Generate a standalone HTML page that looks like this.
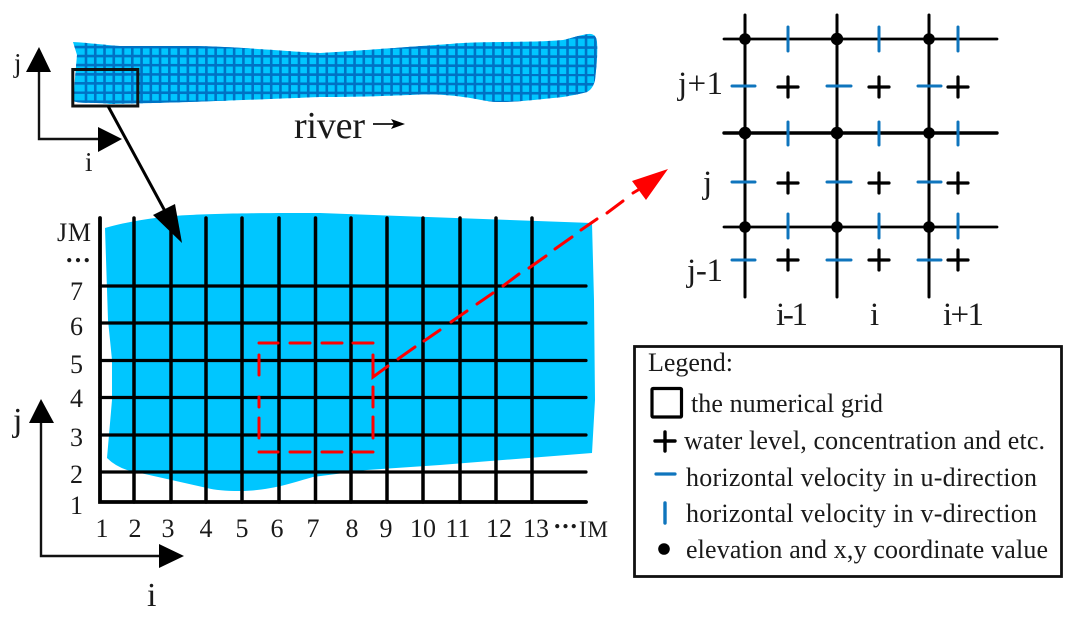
<!DOCTYPE html>
<html><head><meta charset="utf-8"><style>
html,body{margin:0;padding:0;background:#fff}
svg{display:block;filter:blur(0.35px)}
text{font-family:"Liberation Serif",serif;fill:#1a1a1a}
</style></head><body>
<svg width="1080" height="623" viewBox="0 0 1080 623" xmlns="http://www.w3.org/2000/svg">
<defs><clipPath id="rv"><path d="M73,42 C90,43 105,45 120,46 L187,46 C230,46 280,51 320,53 C370,50 420,46 450,44 C480,41 530,43 563,40 C572,38 580,35 588,34 Q596,33 597,42 C598,55 596,70 595,80 Q593,89 587,92 C575,95 565,97 553,98 C535,100 515,102 500,102 C485,102 475,98 463,97 C450,95 435,94 420,94.500 C390,96 350,97 320,97 C270,99 200,102 153,103 L110,104 C95,102 80,104 73,101 L77,55 Z"/></clipPath></defs>

<!-- river -->
<g clip-path="url(#rv)">
<rect x="60" y="30" width="550" height="80" fill="#00c6ff"/>
<line x1="84.700" y1="70" x2="600" y2="70" stroke="#0072c4" stroke-width="80" stroke-dasharray="2.600 6.660"/>
<g stroke="#0072c4" stroke-width="2.600">
<line x1="60" y1="37.500" x2="610" y2="37.300"/>
<line x1="60" y1="47" x2="610" y2="47.600"/>
<line x1="60" y1="56" x2="610" y2="56.700"/>
<line x1="60" y1="65" x2="610" y2="66"/>
<line x1="60" y1="74.300" x2="610" y2="75"/>
<line x1="60" y1="83.300" x2="610" y2="84.300"/>
<line x1="60" y1="92.600" x2="610" y2="93.300"/>
<line x1="60" y1="101.700" x2="610" y2="102.300"/>
</g>
</g>
<rect x="72.800" y="69.500" width="65" height="36.500" fill="none" stroke="#111" stroke-width="3"/>

<!-- small axes -->
<path d="M39,68 V139 H102" fill="none" stroke="#111" stroke-width="2.400"/>
<path d="M39,47 L51,72 L26,72 Z M122,139 L98,127 L98,152 Z" fill="#000"/>
<text x="14" y="72" font-size="27">j</text>
<text x="85" y="171" font-size="27">i</text>

<!-- river label -->
<text x="294" y="138" font-size="38" textLength="71" lengthAdjust="spacing">river</text>
<line x1="373" y1="124" x2="396" y2="124" stroke="#111" stroke-width="1.800"/>
<path d="M405,124 L391,119 L394,124 L391,129 Z" fill="#000"/>

<!-- blue region -->
<path d="M105,228 C125,222 160,216 190,215 C220,213 280,213 320,213 L592,223 L594,300 L595,400 L592,453 L440,465 L367,470 L313,477 C295,482 270,491 240,491 C225,491 215,490 207,488 L127,470 Q115,466 107,458 L112,400 L112,360 L108,320 Z" fill="#00c6ff"/>

<!-- main grid -->
<g stroke="#000" stroke-linecap="round" fill="none">
<path stroke-width="3.200" d="M100,286 H586 M100,323 H586 M100,360.500 H586 M100,397.500 H586 M100,435 H586 M100,472 H586"/>
<path stroke-width="3.500" d="M134,218 V502 M171,218 V502 M206,218 V502 M242,218 V502 M279,218 V502 M315.500,218 V502 M351,218 V502 M387,218 V502 M423,218 V502 M460,218 V502 M496,218 V502 M532,218 V502"/>
<path stroke-width="3.800" d="M100,218 V502 H586"/>
</g>

<!-- grid labels -->
<g font-size="26">
<text x="57" y="241" textLength="34">JM</text>
<text x="66" y="262" textLength="24" font-weight="bold">...</text>
<text x="70" y="300">7</text>
<text x="70" y="335">6</text>
<text x="70" y="373">5</text>
<text x="70" y="407">4</text>
<text x="70" y="446">3</text>
<text x="70" y="483">2</text>
<text x="70" y="514">1</text>
</g>
<g font-size="26" text-anchor="middle">
<text x="102" y="537">1</text>
<text x="135" y="537">2</text>
<text x="168" y="537">3</text>
<text x="206" y="537">4</text>
<text x="242" y="537">5</text>
<text x="277" y="537">6</text>
<text x="313" y="537">7</text>
<text x="352" y="537">8</text>
<text x="386" y="537">9</text>
<text x="423" y="537">10</text>
<text x="458" y="537">11</text>
<text x="499" y="537">12</text>
<text x="536" y="537">13</text>
</g>
<text x="554" y="528" font-size="26" textLength="23" font-weight="bold">...</text>
<text x="579" y="537" font-size="23" textLength="29">IM</text>

<!-- long black arrow -->
<line x1="108" y1="106" x2="166" y2="213" stroke="#000" stroke-width="3"/>
<path d="M182,243 L153,215 L175,204 Z" fill="#000"/>

<!-- red dashed -->
<g stroke="#f00" stroke-width="3" fill="none" stroke-linecap="round">
<path d="M259,343 H278 M290,343 H310 M322,343 H342 M353,343 H373"/>
<path d="M259,452 H278 M290,452 H310 M322,452 H342 M353,452 H373"/>
<path d="M259,355 V375 M259,397 V407 M259,418 V438"/>
<path d="M373,355 V377 L388,366 M373,387 V407 M373,417 V438"/>
<path d="M398,359 L415,347 M424,341 L440,330 M451,322 L467,311 M477,304 L493,293 M503,286 L519,274 M529,268 L546,256 M555,249 L572,237 M581,230 L597,219 M607,213 L623,201 M633,193 L638,190"/>
</g>
<path d="M668,169 L632,181 L646,200 Z" fill="#f00"/>

<!-- lower axes -->
<path d="M41,420 V556 H162" fill="none" stroke="#111" stroke-width="2.400"/>
<path d="M41,399 L54,423 L29,423 Z M184,556 L159,544 L159,568 Z" fill="#000"/>
<text x="13" y="431" font-size="34">j</text>
<text x="147" y="606" font-size="34">i</text>

<!-- detail grid -->
<g stroke="#000" stroke-linecap="round" fill="none">
<path stroke-width="3" d="M745,15 V297 M837,15 V297 M929,15 V297"/>
<path stroke-width="2.800" d="M724,39 H997 M724,227 H997"/>
<path stroke-width="3.400" d="M724,133 H997"/>
</g>
<g fill="#000">
<circle cx="745" cy="39" r="5.800"/><circle cx="837" cy="39" r="6.200"/><circle cx="929" cy="39" r="5.800"/>
<circle cx="745" cy="133" r="6.200"/><circle cx="837" cy="133" r="6.200"/><circle cx="929" cy="133" r="5.800"/>
<circle cx="745" cy="227" r="5.800"/><circle cx="837" cy="227" r="5.800"/><circle cx="929" cy="227" r="5.800"/>
</g>
<g stroke="#0f75bd" stroke-width="3" stroke-linecap="round" fill="none">
<path d="M788,27 V51 M879,27 V51 M958,27 V51 M788,122 V145 M879,122 V145 M958,122 V145 M788,214 V238 M879,214 V238 M958,214 V238"/>
<path d="M732,86 H755 M827,86 H851 M918,86 H941 M732,182 H755 M827,182 H851 M918,182 H941 M732,260 H755 M827,260 H851 M918,260 H941"/>
</g>
<g stroke="#000" stroke-width="3.200" stroke-linecap="round" fill="none">
<path d="M788,77 V97 M778,87 H798 M879,77 V97 M869,87 H889 M958,77 V97 M948,87 H968"/>
<path d="M788,173 V193 M778,183 H798 M879,173 V193 M869,183 H889 M958,173 V193 M948,183 H968"/>
<path d="M788,250 V270 M778,260 H798 M879,250 V270 M869,260 H889 M958,250 V270 M948,260 H968"/>
</g>
<g font-size="33">
<text x="678" y="94" textLength="45">j+1</text>
<text x="703" y="193">j</text>
<text x="687" y="281" textLength="36">j-1</text>
<text x="776" y="325" textLength="32">i-1</text>
<text x="870" y="325">i</text>
<text x="943" y="325" textLength="41">i+1</text>
</g>

<!-- legend -->
<rect x="634.500" y="346.500" width="427" height="230" fill="#fff" stroke="#111" stroke-width="2.800"/>
<rect x="652" y="388.500" width="29.500" height="28.500" rx="1" fill="none" stroke="#000" stroke-width="3.200"/>
<path d="M665,432 V451 M655,441 H675" stroke="#000" stroke-width="3.400" stroke-linecap="round"/>
<line x1="656" y1="474" x2="675" y2="474" stroke="#0f75bd" stroke-width="3.200" stroke-linecap="round"/>
<line x1="665" y1="503" x2="665" y2="523" stroke="#0f75bd" stroke-width="3.400" stroke-linecap="round"/>
<circle cx="664" cy="549" r="5.800" fill="#000"/>
<g font-size="26">
<text x="648" y="371" textLength="85">Legend:</text>
<text x="691" y="412" textLength="192">the numerical grid</text>
<text x="684" y="449" textLength="361">water level, concentration and etc.</text>
<text x="686" y="486" textLength="351">horizontal velocity in u-direction</text>
<text x="686" y="522" textLength="351">horizontal velocity in v-direction</text>
<text x="686" y="558" textLength="362">elevation and x,y coordinate value</text>
</g>
</svg>
</body></html>
